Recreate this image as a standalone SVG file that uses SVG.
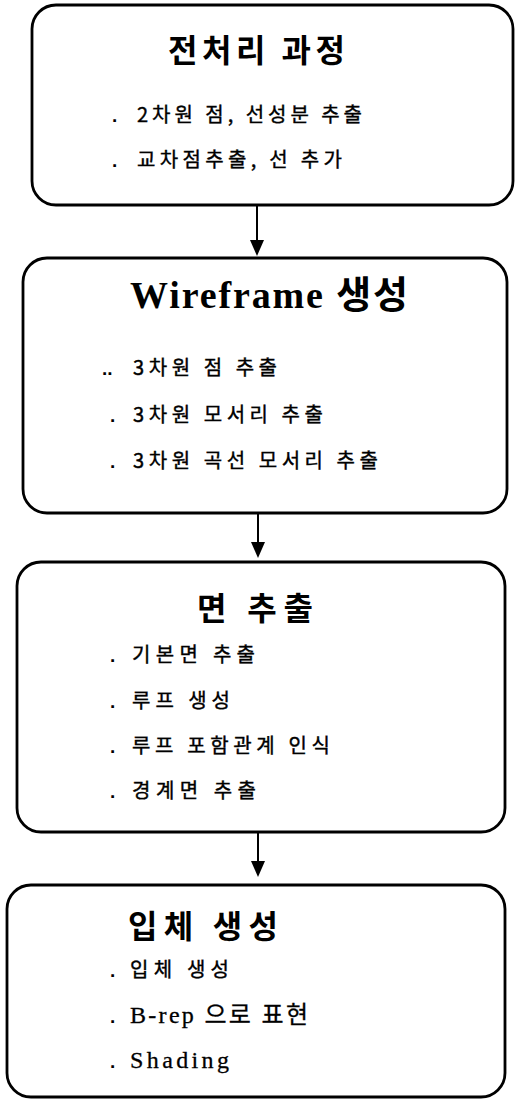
<svg xmlns="http://www.w3.org/2000/svg" width="529" height="1100" viewBox="0 0 529 1100">
<defs>
<style>
.box{fill:#fff;stroke:#000;stroke-width:2.8}
.title{font-family:"Noto Sans CJK KR","Liberation Serif",serif;font-size:32px;font-weight:bold;fill:#000}
.wtitle{font-family:"Liberation Serif","Noto Sans CJK KR",serif;font-size:38px;font-weight:bold;fill:#000}
.item{font-family:"Noto Sans CJK KR",sans-serif;font-size:20px;fill:#000;stroke:#000;stroke-width:0.4}
.sitem{font-family:"Liberation Serif","Noto Sans CJK KR",serif;font-size:24px;fill:#000;stroke:#000;stroke-width:0.3}
.dot{font-family:"Liberation Sans",sans-serif;font-size:19px;font-weight:bold;fill:#000}
.conn{stroke:#000;stroke-width:2;fill:none}
.head{fill:#000}
</style>
</defs>
<rect width="529" height="1100" fill="#fff"/>
<g id="connectors">
<line class="conn" x1="257" y1="205" x2="257" y2="245"/>
<path class="head" d="M250,240 L264,240 L257,256 Z"/>
<line class="conn" x1="258" y1="513" x2="258" y2="546"/>
<path class="head" d="M251,542 L265,542 L258,558 Z"/>
<line class="conn" x1="258" y1="832" x2="258" y2="864"/>
<path class="head" d="M251,861 L265,861 L258,877 Z"/>
</g>
<g id="node1">
<rect class="box" x="32" y="5" width="481" height="200" rx="24"/>
<text class="title" x="168" y="62" textLength="177" lengthAdjust="spacing">전처리 과정</text>
<text class="dot" x="112" y="122">.</text>
<text class="item" x="137" y="122" textLength="225" lengthAdjust="spacing">2차원 점, 선성분 추출</text>
<text class="dot" x="112" y="167">.</text>
<text class="item" x="137" y="167" textLength="205" lengthAdjust="spacing">교차점추출, 선 추가</text>
</g>
<g id="node2">
<rect class="box" x="23" y="258" width="484" height="255" rx="24"/>
<text class="wtitle" x="130" y="308" textLength="278" lengthAdjust="spacing">Wireframe 생성</text>
<text class="dot" x="102" y="375">..</text>
<text class="item" x="133" y="375" textLength="144" lengthAdjust="spacing">3차원 점 추출</text>
<text class="dot" x="110" y="422">.</text>
<text class="item" x="133" y="422" textLength="190" lengthAdjust="spacing">3차원 모서리 추출</text>
<text class="dot" x="110" y="468">.</text>
<text class="item" x="133" y="468" textLength="245" lengthAdjust="spacing">3차원 곡선 모서리 추출</text>
</g>
<g id="node3">
<rect class="box" x="17" y="562" width="488" height="270" rx="24"/>
<text class="title" x="197" y="620" textLength="116" lengthAdjust="spacing">면 추출</text>
<text class="dot" x="110" y="662">.</text>
<text class="item" x="132" y="662" textLength="123" lengthAdjust="spacing">기본면 추출</text>
<text class="dot" x="110" y="708">.</text>
<text class="item" x="132" y="708" textLength="98" lengthAdjust="spacing">루프 생성</text>
<text class="dot" x="110" y="753">.</text>
<text class="item" x="132" y="753" textLength="198" lengthAdjust="spacing">루프 포함관계 인식</text>
<text class="dot" x="110" y="798">.</text>
<text class="item" x="132" y="798" textLength="124" lengthAdjust="spacing">경계면 추출</text>
</g>
<g id="node4">
<rect class="box" x="7" y="885" width="498" height="212" rx="24"/>
<text class="title" x="128" y="938" textLength="150" lengthAdjust="spacing">입체 생성</text>
<text class="dot" x="110" y="977">.</text>
<text class="item" x="130" y="977" textLength="99" lengthAdjust="spacing">입체 생성</text>
<text class="dot" x="110" y="1023">.</text>
<text class="sitem" x="130" y="1023" textLength="178" lengthAdjust="spacing">B-rep 으로 표현</text>
<text class="dot" x="110" y="1068">.</text>
<text class="sitem" x="130" y="1068" textLength="99" lengthAdjust="spacing">Shading</text>
</g>
</svg>
